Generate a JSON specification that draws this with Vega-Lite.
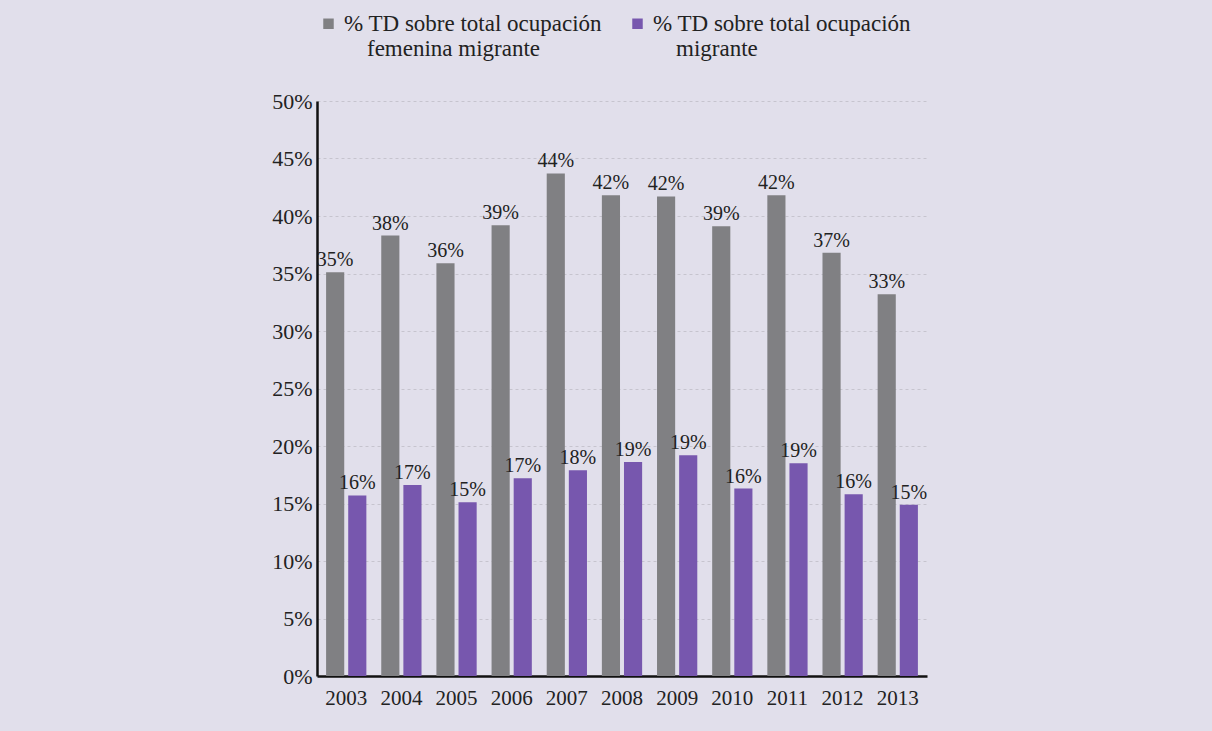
{
  "$schema": "https://vega.github.io/schema/vega-lite/v6.json",
  "width": 1212,
  "height": 731,
  "autosize": {"type": "fit", "contains": "padding"},
  "padding": {"left": 271, "top": 12, "right": 285, "bottom": 23},
  "background": "#e1dfeb",
  "config": {
    "font": "Liberation Serif",
    "view": {"stroke": null},
    "axis": {"labelFont": "Liberation Serif", "labelColor": "#222222"},
    "legend": {"labelFont": "Liberation Serif"}
  },
  "data": {
    "values": [
      {"year": "2003", "serie": "fem", "value": 0.351},
      {"year": "2004", "serie": "fem", "value": 0.383},
      {"year": "2005", "serie": "fem", "value": 0.359},
      {"year": "2006", "serie": "fem", "value": 0.392},
      {"year": "2007", "serie": "fem", "value": 0.437},
      {"year": "2008", "serie": "fem", "value": 0.418},
      {"year": "2009", "serie": "fem", "value": 0.417},
      {"year": "2010", "serie": "fem", "value": 0.391},
      {"year": "2011", "serie": "fem", "value": 0.418},
      {"year": "2012", "serie": "fem", "value": 0.368},
      {"year": "2013", "serie": "fem", "value": 0.332},
      {"year": "2003", "serie": "tot", "value": 0.157},
      {"year": "2004", "serie": "tot", "value": 0.166},
      {"year": "2005", "serie": "tot", "value": 0.151},
      {"year": "2006", "serie": "tot", "value": 0.172},
      {"year": "2007", "serie": "tot", "value": 0.179},
      {"year": "2008", "serie": "tot", "value": 0.186},
      {"year": "2009", "serie": "tot", "value": 0.192},
      {"year": "2010", "serie": "tot", "value": 0.163},
      {"year": "2011", "serie": "tot", "value": 0.185},
      {"year": "2012", "serie": "tot", "value": 0.158},
      {"year": "2013", "serie": "tot", "value": 0.149}
    ]
  },
  "encoding": {
    "x": {
      "field": "year", "type": "nominal", "title": null,
      "scale": {"paddingInner": 0.27, "paddingOuter": 0.165},
      "axis": {"labelAngle": 0, "ticks": false, "domainColor": "#111111", "domainWidth": 2.5, "labelPadding": 11, "labelFontSize": 21, "grid": false}
    },
    "xOffset": {"field": "serie", "type": "nominal", "scale": {"paddingInner": 0.18, "paddingOuter": 0}},
    "y": {
      "field": "value", "type": "quantitative", "title": null,
      "scale": {"domain": [0, 0.5], "nice": false},
      "axis": {"format": ".0%", "values": [0, 0.05, 0.1, 0.15, 0.2, 0.25, 0.3, 0.35, 0.4, 0.45, 0.5], "ticks": false, "domainColor": "#111111", "domainWidth": 2.5, "labelPadding": 5, "labelFontSize": 22, "gridColor": "#c6c4ce", "gridDash": [3, 3], "gridWidth": 1}
    }
  },
  "layer": [
    {
      "mark": {"type": "bar"},
      "encoding": {
        "color": {
          "field": "serie", "type": "nominal",
          "scale": {"domain": ["fem", "tot"], "range": ["#808083", "#7757ae"]},
          "legend": {
            "title": null, "orient": "top", "direction": "horizontal", "columns": 2,
            "columnPadding": 23, "offset": 40,
            "symbolType": "square", "symbolSize": 110, "symbolStrokeWidth": 0,
            "labelFont": "Liberation Serif", "labelFontSize": 23, "labelColor": "#222222", "labelLimit": 400,
            "labelExpr": "datum.value == 'fem' ? ['% TD sobre total ocupación', '\u200b\u00a0\u00a0\u00a0\u00a0femenina migrante'] : ['% TD sobre total ocupación', '\u200b\u00a0\u00a0\u00a0\u00a0migrante']"
          }
        }
      }
    },
    {
      "mark": {"type": "text", "baseline": "bottom", "dy": -2, "fontSize": 20, "font": "Liberation Serif", "color": "#222222"},
      "encoding": {
        "text": {"field": "value", "type": "quantitative", "format": ".0%"}
      }
    }
  ]
}
